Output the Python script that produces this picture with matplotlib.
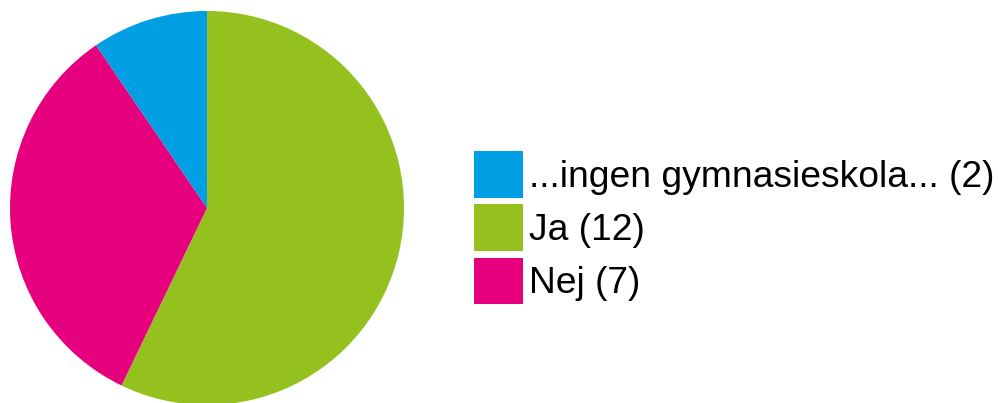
import matplotlib
matplotlib.use("Agg")
import matplotlib.pyplot as plt
from matplotlib.patches import Patch

labels = ["...ingen gymnasieskola... (2)", "Ja (12)", "Nej (7)"]
values = [2, 12, 7]
colors = ["#009FE3", "#95C11F", "#E6007E"]

plt.rcParams['font.family'] = ['Liberation Sans', 'DejaVu Sans']
W, H = 998, 403
fig = plt.figure(figsize=(W/100, H/100), dpi=100)
ax = fig.add_axes([10/W, -2/H, 394/W, 394/H])
# drawing order clockwise from top: Ja, Nej, blue
order = [1, 2, 0]
ax.pie([values[i] for i in order], colors=[colors[i] for i in order],
       startangle=90, counterclock=False, radius=1.0,
       wedgeprops=dict(linewidth=0))
ax.set_xlim(-1, 1); ax.set_ylim(-1, 1)
ax.set_aspect('equal')
ax.axis('off')

fs = 26.8
px = fs * 100 / 72
handles = [Patch(facecolor=c, edgecolor='none') for c in colors]
fig.legend(handles, labels, loc='upper left', bbox_to_anchor=(474/W, 1 - 151/H),
           frameon=False, fontsize=fs, handlelength=49/px, handleheight=58/px,
           labelspacing=6.5/px, handletextpad=6/px, borderpad=0, borderaxespad=0)
fig.savefig("out.png", dpi=100)
